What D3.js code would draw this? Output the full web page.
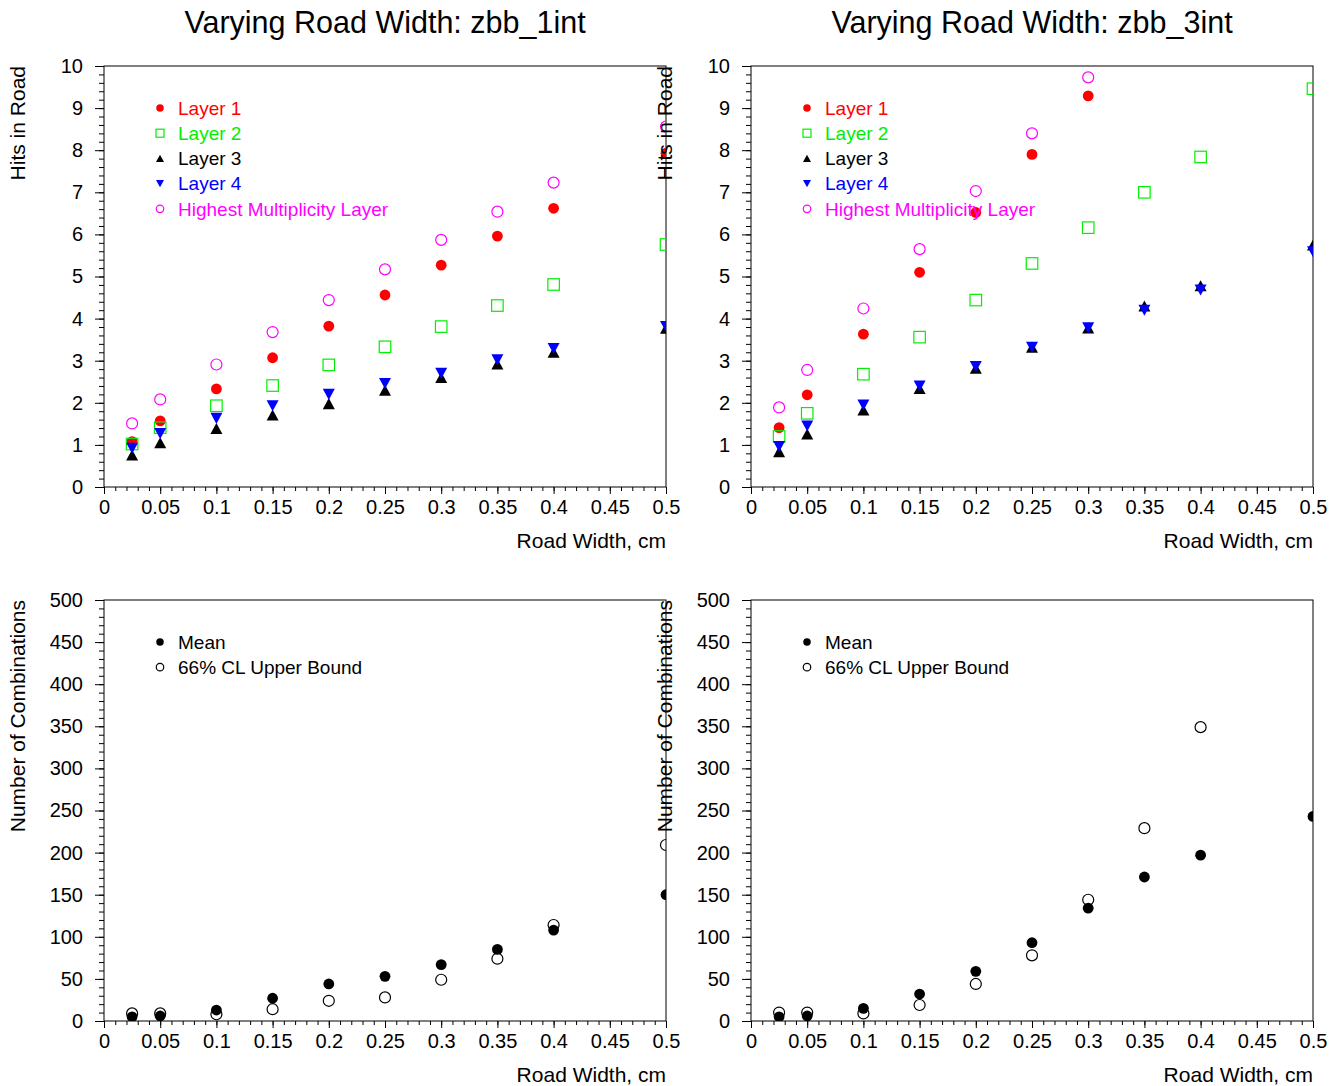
<!DOCTYPE html>
<html>
<head>
<meta charset="utf-8">
<script src="https://cdn.jsdelivr.net/npm/d3@7"></script>
<style>
  body { margin: 0; background: #fff; }
  text { font-family: "Liberation Sans", Arial, sans-serif; }
</style>
</head>
<body>
<div id="chart"></div>
<script>
// Road widths (cm)
const widths = [0.025, 0.05, 0.1, 0.15, 0.2, 0.25, 0.3, 0.35, 0.4, 0.5];

// zbb_1int : hits in road
const layer1_1int = [1.08, 1.57, 2.33, 3.07, 3.82, 4.56, 5.27, 5.96, 6.62, 7.93];
const layer2_1int = [1.02, 1.41, 1.93, 2.41, 2.90, 3.33, 3.81, 4.31, 4.81, 5.76];
const layer3_1int = [0.76, 1.05, 1.39, 1.71, 1.98, 2.30, 2.60, 2.92, 3.20, 3.77];
const layer4_1int = [0.92, 1.27, 1.63, 1.93, 2.20, 2.46, 2.70, 3.02, 3.29, 3.81];
const highest_1int = [1.51, 2.08, 2.91, 3.68, 4.44, 5.17, 5.87, 6.54, 7.23, 8.56];

// zbb_3int : hits in road (points above 10 are off the chart)
const layer1_3int = [1.41, 2.19, 3.63, 5.10, 6.52, 7.90, 9.29, null, null, null];
const layer2_3int = [1.20, 1.75, 2.68, 3.56, 4.44, 5.31, 6.16, 7.00, 7.84, 9.46];
const layer3_3int = [0.84, 1.26, 1.83, 2.34, 2.82, 3.32, 3.78, 4.30, 4.78, 5.75];
const layer4_3int = [0.96, 1.45, 1.95, 2.40, 2.86, 3.32, 3.78, 4.20, 4.68, 5.59];
const highest_3int = [1.89, 2.78, 4.24, 5.65, 7.03, 8.40, 9.73, null, null, null];

// number of combinations
const mean_1int = [5, 6, 13, 27, 44, 53, 67, 85, 108, 150];
const upper_1int = [9, 9, 8, 14, 24, 28, 49, 74, 114, 209];
const mean_3int = [5, 6, 15, 32, 59, 93, 134, 171, 197, 243];
const upper_3int = [10, 10, 9, 19, 44, 78, 144, 229, 349, null];

const xTicks = [0, 0.05, 0.1, 0.15, 0.2, 0.25, 0.3, 0.35, 0.4, 0.45, 0.5];
const hitTicks = [0, 1, 2, 3, 4, 5, 6, 7, 8, 9, 10];
const combTicks = [0, 50, 100, 150, 200, 250, 300, 350, 400, 450, 500];

const W = 1343, H = 1086;
const pw = 562, ph = 421;

const svg = d3.select("#chart").append("svg")
    .attr("width", W)
    .attr("height", H);

// draw one ROOT style marker
function marker(g, shape, color, size, x, y) {
    if (shape === "fcircle" || shape === "ocircle") {
        g.append("circle")
            .attr("cx", x).attr("cy", y)
            .attr("r", size / 2)
            .attr("fill", shape === "fcircle" ? color : "none")
            .attr("stroke", color)
            .attr("stroke-width", shape === "fcircle" ? 0 : 1.2);
    } else if (shape === "osquare") {
        g.append("rect")
            .attr("x", x - size / 2).attr("y", y - size / 2)
            .attr("width", size).attr("height", size)
            .attr("fill", "none")
            .attr("stroke", color)
            .attr("stroke-width", 1.2);
    } else {
        const h = size * 0.92, w = size / 2;
        const pts = shape === "tup"
            ? [[x - w, y + h / 2], [x + w, y + h / 2], [x, y - h / 2]]
            : [[x - w, y - h / 2], [x + w, y - h / 2], [x, y + h / 2]];
        g.append("path")
            .attr("d", "M" + pts.map(p => p.join(",")).join("L") + "Z")
            .attr("fill", color);
    }
}

function panel(opt) {
    const g = svg.append("g")
        .attr("transform", "translate(" + opt.left + "," + opt.top + ")");

    const x = d3.scaleLinear().domain([0, 0.5]).range([0, pw]);
    const y = d3.scaleLinear().domain([0, opt.yMax]).range([ph, 0]);

    // minor ticks
    const xMinor = d3.range(0, 51).map(i => i / 100);
    const yMinor = d3.range(0, 51).map(i => i * opt.yMax / 50);

    g.append("g")
        .attr("transform", "translate(0," + ph + ")")
        .call(d3.axisBottom(x).tickValues(xMinor).tickSize(4).tickFormat(""))
        .call(a => a.select(".domain").remove());
    g.append("g")
        .call(d3.axisLeft(y).tickValues(yMinor).tickSize(5).tickFormat(""))
        .call(a => a.select(".domain").remove());

    // major ticks with labels
    const xa = g.append("g")
        .attr("transform", "translate(0," + ph + ")")
        .call(d3.axisBottom(x).tickValues(xTicks).tickSize(7).tickPadding(6)
            .tickFormat(d => String(+d.toFixed(2))));
    xa.select(".domain").remove();
    xa.selectAll("text").attr("font-size", 20).attr("fill", "#000")
        .style("font-family", "Liberation Sans, Arial, sans-serif");

    const ya = g.append("g")
        .call(d3.axisLeft(y).tickValues(opt.yTicks).tickSize(9).tickPadding(12));
    ya.select(".domain").remove();
    ya.selectAll("text").attr("font-size", 20).attr("fill", "#000")
        .style("font-family", "Liberation Sans, Arial, sans-serif");
    g.selectAll(".tick line").attr("stroke", "#000");

    // frame
    g.append("rect")
        .attr("width", pw).attr("height", ph)
        .attr("fill", "none")
        .attr("stroke", "#000")
        .attr("stroke-width", 1);

    // markers clipped to the frame
    const clipId = "clip" + opt.id;
    g.append("clipPath").attr("id", clipId)
        .append("rect").attr("width", pw).attr("height", ph);
    const pg = g.append("g").attr("clip-path", "url(#" + clipId + ")");

    opt.series.forEach(s => {
        s.values.forEach((v, i) => {
            if (v === null) return;
            marker(pg, s.shape, s.color, s.size, x(widths[i]), y(v));
        });
    });

    // legend
    const lg = g.append("g").attr("transform", "translate(56,42)");
    opt.series.forEach((s, i) => {
        const ly = i * 25.2;
        marker(lg, s.shape, s.color, s.legendSize, 0, ly);
        lg.append("text")
            .attr("x", 18).attr("y", ly)
            .attr("dy", "0.36em")
            .attr("font-size", 19)
            .attr("fill", s.textColor)
            .text(s.name);
    });

    // axis titles
    g.append("text")
        .attr("x", pw).attr("y", ph + 61)
        .attr("text-anchor", "end")
        .attr("font-size", 21)
        .text("Road Width, cm");

    g.append("text")
        .attr("transform", "translate(-79,0) rotate(-90)")
        .attr("text-anchor", "end")
        .attr("font-size", 21)
        .text(opt.yLabel);

    if (opt.title) {
        g.append("text")
            .attr("x", pw / 2).attr("y", -33)
            .attr("text-anchor", "middle")
            .attr("font-size", 30.5)
            .text(opt.title);
    }
}

function hitSeries(l1, l2, l3, l4, hm) {
    return [
        { name: "Layer 1", values: l1, shape: "fcircle", color: "#ff0000", textColor: "#ff0000", size: 10.8, legendSize: 7.5 },
        { name: "Layer 2", values: l2, shape: "osquare", color: "#00ee00", textColor: "#00ee00", size: 11.5, legendSize: 8 },
        { name: "Layer 3", values: l3, shape: "tup", color: "#000000", textColor: "#000000", size: 12, legendSize: 8 },
        { name: "Layer 4", values: l4, shape: "tdown", color: "#0000ff", textColor: "#0000ff", size: 12, legendSize: 8 },
        { name: "Highest Multiplicity Layer", values: hm, shape: "ocircle", color: "#ff00ff", textColor: "#ff00ff", size: 11, legendSize: 7.5 }
    ];
}

function combSeries(mean, upper) {
    return [
        { name: "Mean", values: mean, shape: "fcircle", color: "#000000", textColor: "#000000", size: 10.8, legendSize: 7.5 },
        { name: "66% CL Upper Bound", values: upper, shape: "ocircle", color: "#000000", textColor: "#000000", size: 11, legendSize: 7.5 }
    ];
}

panel({ id: 1, left: 104, top: 66, yMax: 10, yTicks: hitTicks, title: "Varying Road Width: zbb_1int",
    yLabel: "Hits in Road", series: hitSeries(layer1_1int, layer2_1int, layer3_1int, layer4_1int, highest_1int) });
panel({ id: 3, left: 104, top: 600, yMax: 500, yTicks: combTicks,
    yLabel: "Number of Combinations", series: combSeries(mean_1int, upper_1int) });
panel({ id: 2, left: 751, top: 66, yMax: 10, yTicks: hitTicks, title: "Varying Road Width: zbb_3int",
    yLabel: "Hits in Road", series: hitSeries(layer1_3int, layer2_3int, layer3_3int, layer4_3int, highest_3int) });
panel({ id: 4, left: 751, top: 600, yMax: 500, yTicks: combTicks,
    yLabel: "Number of Combinations", series: combSeries(mean_3int, upper_3int) });
</script>
</body>
</html>
